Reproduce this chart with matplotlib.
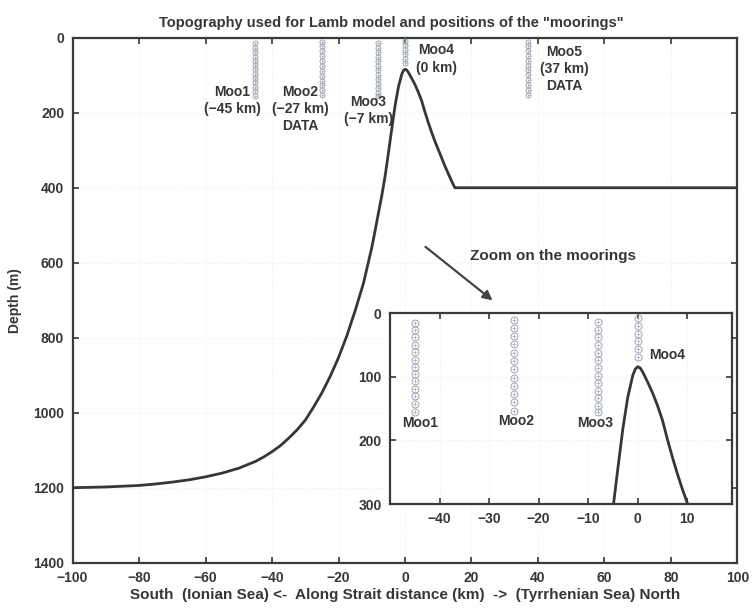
import numpy as np
import matplotlib
matplotlib.use('Agg')
import matplotlib.pyplot as plt

plt.rcParams['font.family'] = ['Liberation Sans', 'DejaVu Sans']
plt.rcParams['font.weight'] = 'bold'
plt.rcParams['axes.titleweight'] = 'bold'
plt.rcParams['axes.labelweight'] = 'bold'

INK = '#363636'
MOOR = '#9ea6b2'

# Topografia lungo lo stretto (km, m)
topo_x = [-100, -95, -90, -85, -80, -75, -70, -65, -60, -55, -50, -45, -42.5, -40, -37.5,
          -35, -32.5, -30, -27.5, -25, -22.5, -20, -17.5, -15, -12.5, -10, -9, -8, -7, -6,
          -5, -4, -3, -2, -1, -0.5, 0, 0.5, 1, 2, 3, 4, 5, 6, 7, 8, 9, 10, 11, 12, 13, 14,
          15, 100]
topo_z = [1200, 1199, 1198, 1196, 1194, 1190, 1185, 1179, 1171, 1161, 1148, 1130, 1118,
          1104, 1088, 1068, 1046, 1020, 985, 947, 903, 853, 795, 728, 655, 560, 515, 468,
          422, 370, 308, 244, 182, 132, 98, 88, 84, 86, 92, 108, 125, 145, 168, 198, 226,
          252, 276, 298, 320, 342, 362, 382, 400, 400]

# Posizioni e profondita' degli strumenti sui mooring
moor_names = ['Moo1', 'Moo2', 'Moo3', 'Moo4', 'Moo5']
moor_x = [-45, -25, -8, 0, 37]
moor_z = [
    [15, 27, 38, 50, 61, 73, 84, 96, 107, 119, 130, 142, 155],
    [10, 23, 36, 49, 62, 75, 88, 101, 114, 127, 140, 153],
    [14, 26, 38, 50, 62, 74, 86, 98, 110, 122, 134, 146, 155],
    [8, 20, 32, 44, 56, 68],
    [10, 22, 35, 48, 61, 74, 87, 100, 113, 126, 139, 152],
]
main_labels = ['Moo1\n(\u221245 km)', 'Moo2\n(\u221227 km)\nDATA', 'Moo3\n(\u22127 km)',
               'Moo4\n(0 km)', 'Moo5\n(37 km)\nDATA']
main_label_pos = [(-52, 125), (-31.5, 125), (-11, 152), (9.5, 15), (48, 18)]
inset_label_pos = [(-44, 173), (-24.5, 170), (-8.5, 173), (6, 66)]

xticks = [-100, -80, -60, -40, -20, 0, 20, 40, 60, 80, 100]
yticks = [0, 200, 400, 600, 800, 1000, 1200, 1400]
inset_xticks = [-40, -30, -20, -10, 0, 10]
inset_yticks = [0, 100, 200, 300]


def style_axes(ax, size):
    for s in ax.spines.values():
        s.set_linewidth(1.6)
        s.set_color('#3a3a3a')
    ax.tick_params(direction='in', top=True, right=True, length=4, width=1.2,
                   colors=INK, labelsize=size, pad=6)
    ax.grid(True, color='#ececec', linestyle=':', linewidth=0.6)
    ax.set_axisbelow(True)


def draw_moorings(ax, ms):
    for x, zs in zip(moor_x, moor_z):
        ax.plot([x] * len(zs), zs, 'o', ms=ms, mfc='none', mec=MOOR, mew=0.7, zorder=3)
        ax.plot([x] * len(zs), zs, '+', ms=ms * 0.6, color=MOOR, mew=0.5, zorder=3)


fig = plt.figure(figsize=(7.53, 6.09), dpi=100)
ax = fig.add_axes([0.0963, 0.076, 0.8831, 0.862])
ax.plot(topo_x, topo_z, color=INK, lw=2.0, zorder=4)
draw_moorings(ax, 3.6)
for lab, (lx, ly) in zip(main_labels, main_label_pos):
    ax.text(lx, ly, lab, ha='center', va='top', fontsize=10, color=INK, linespacing=1.3)
ax.set_xlim(-100, 100)
ax.set_ylim(1400, 0)
ax.set_xticks(xticks)
ax.set_yticks(yticks)
ax.set_xticklabels([str(t).replace('-', '\u2212') for t in xticks])
style_axes(ax, 10)
ax.set_xlabel('South  (Ionian Sea) <-  Along Strait distance (km)  ->  (Tyrrhenian Sea) North',
              fontsize=11, color=INK, labelpad=2)
ax.set_ylabel('Depth (m)', fontsize=10, color=INK, labelpad=8)
ax.set_title('Topography used for Lamb model and positions of the "moorings"',
             fontsize=10.5, color=INK, pad=8, x=0.48)

ax.annotate('', xy=(27, 705), xytext=(5.5, 553),
            arrowprops=dict(arrowstyle='-|>', color='#444444', lw=1.6, mutation_scale=14))
ax.text(19.5, 582, 'Zoom on the moorings', fontsize=11, color=INK, va='center')

# Riquadro di zoom
axi = fig.add_axes([0.518, 0.1724, 0.4538, 0.3131])
axi.plot(topo_x, topo_z, color=INK, lw=2.0, zorder=4)
draw_moorings(axi, 5)
for name, (lx, ly) in zip(moor_names, inset_label_pos):
    axi.text(lx, ly, name, ha='center', va='center', fontsize=10, color=INK)
axi.set_xlim(-50, 19)
axi.set_ylim(300, 0)
axi.set_xticks(inset_xticks)
axi.set_yticks(inset_yticks)
axi.set_xticklabels([str(t).replace('-', '\u2212') for t in inset_xticks])
style_axes(axi, 10)
axi.set_facecolor('white')

fig.savefig('out.png', dpi=100)
